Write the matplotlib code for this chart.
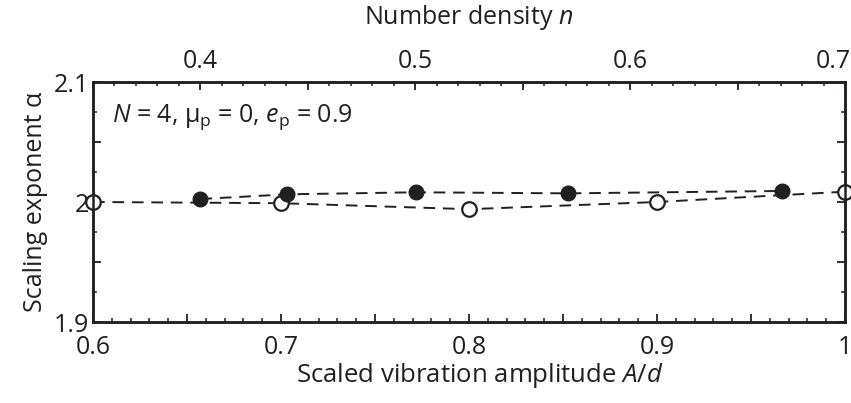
import matplotlib
matplotlib.use("Agg")
import matplotlib.pyplot as plt
import matplotlib.transforms as mtransforms
import numpy as np
from matplotlib.ticker import FixedLocator, FuncFormatter, MultipleLocator

plt.rcParams['font.family'] = ['Open Sans', 'DejaVu Sans']
plt.rcParams['mathtext.fontset'] = 'custom'
plt.rcParams['mathtext.rm'] = 'Open Sans'
plt.rcParams['mathtext.it'] = 'Open Sans:italic'

# Data
amp_open = [0.6, 0.7, 0.8, 0.9, 1.0]                 # A/d (bottom axis)
alpha_open = [2.000, 1.999, 1.994, 2.000, 2.0086]
n_filled = [0.400, 0.4405, 0.5005, 0.571, 0.6707]    # n (top axis)
alpha_filled = [2.0025, 2.0064, 2.0081, 2.0072, 2.0092]

bottom_ticks = [0.6, 0.7, 0.8, 0.9, 1.0]
bottom_labels = ['0.6', '0.7', '0.8', '0.9', '1']
top_ticks = [0.4, 0.5, 0.6, 0.7]
top_labels = ['0.4', '0.5', '0.6', '0.7']
y_ticks = [1.9, 2.0, 2.1]
y_labels = ['1.9', '2', '2.1']

ink = '#231f20'
fs = 18

fig = plt.figure(figsize=(8.51, 4.03), dpi=100)
ax = fig.add_axes([93/851, 1-322/403, (845-93)/851, (322-82)/403])
ax2 = ax.twiny()

ax.set_xlim(0.6, 1.0)
ax.set_ylim(1.9, 2.1)
ax2.set_xlim(0.35, 0.70)

def labeled(ticks, labels):
    d = {round(t, 3): l for t, l in zip(ticks, labels)}
    return FuncFormatter(lambda v, p: d.get(round(v, 3), ''))

ax.xaxis.set_major_locator(FixedLocator(list(np.round(np.arange(0.6, 1.0001, 0.05), 3))))
ax.xaxis.set_major_formatter(labeled(bottom_ticks, bottom_labels))
ax.xaxis.set_minor_locator(MultipleLocator(0.01))
ax.yaxis.set_major_locator(FixedLocator(list(np.round(np.arange(1.9, 2.1001, 0.05), 3))))
ax.yaxis.set_major_formatter(labeled(y_ticks, y_labels))
ax.yaxis.set_minor_locator(MultipleLocator(0.025))
ax2.xaxis.set_major_locator(FixedLocator(list(np.round(np.arange(0.35, 0.7001, 0.05), 3))))
ax2.xaxis.set_major_formatter(labeled(top_ticks, top_labels))
ax2.xaxis.set_minor_locator(MultipleLocator(0.01))

for a in (ax, ax2):
    for s in a.spines.values():
        s.set_linewidth(1.8)
        s.set_color(ink)

ax.tick_params(axis='x', which='both', direction='in', top=False, bottom=True,
               labelsize=fs, colors=ink, pad=9)
ax.tick_params(axis='y', which='both', direction='in', left=True, right=True,
               labelsize=fs, colors=ink, pad=3)
ax2.tick_params(axis='x', which='both', direction='in', top=True, bottom=False,
                labelsize=fs, colors=ink, pad=6)
for a in (ax, ax2):
    a.tick_params(which='major', length=6, width=1.3)
    a.tick_params(which='minor', length=3, width=1.1)

lkw = dict(color=ink, lw=1.4, dashes=(6, 4))
ax.plot(amp_open, alpha_open, marker='o', ms=10.5, mfc='white', mec=ink, mew=1.6,
        clip_on=False, zorder=5, **lkw)
ax2.plot(n_filled, alpha_filled, marker='o', ms=10.5, mfc=ink, mec=ink, mew=1.0,
         clip_on=False, zorder=5, **lkw)

ax.set_xlabel('Scaled vibration amplitude $A/d$', fontsize=18.5, color=ink)
ax.xaxis.set_label_coords(0.515, -0.222)
ax.xaxis.label.set_va('center')
ax2.set_xlabel('Number density $n$', fontsize=fs, color=ink, labelpad=18)
ax.set_ylabel('Scaling exponent α', fontsize=fs, color=ink, labelpad=4)

ax.text(0.025, 0.855, r'$N$ = 4, μ$_\mathrm{p}$ = 0, $e_\mathrm{p}$ = 0.9',
        transform=ax.transAxes, fontsize=fs, color=ink, va='center', ha='left')

# keep the last top tick label inside the figure
last = ax2.xaxis.get_major_ticks()[-1].label2
last.set_transform(last.get_transform() +
                   mtransforms.ScaledTranslation(-0.12, 0, fig.dpi_scale_trans))

fig.savefig('out.png', dpi=100)
